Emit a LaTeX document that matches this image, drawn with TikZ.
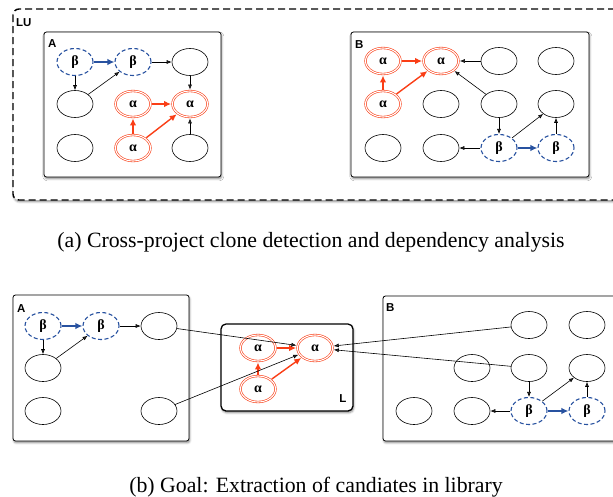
\documentclass[tikz,border=0pt]{standalone}
\usepackage{fontspec}
\setmainfont{Liberation Serif}
\setsansfont{Liberation Sans}
\usetikzlibrary{arrows.meta,shapes.geometric,shadows.blur}
\definecolor{clred}{RGB}{250,62,22}
\definecolor{clblue}{RGB}{40,82,160}
\tikzset{
  plain/.style={ellipse, draw, line width=0.6pt, minimum width=36pt, minimum height=27pt, inner sep=0pt},
  alpha/.style={plain, draw=clred, double=white, double distance=1.1pt, line width=0.6pt,
    minimum width=35pt, minimum height=26pt, outer sep=1.4pt, font=\fontsize{14}{14}\selectfont\bfseries},
  beta/.style={plain, draw=clblue, line width=1.1pt, dash pattern=on 4pt off 2.5pt,
    font=\fontsize{14}{14}\selectfont\bfseries},
  dep/.style={-{Latex[length=5pt,width=4pt]}, line width=0.6pt},
  redlink/.style={-{Latex[length=7pt,width=6.5pt]}, draw=clred, line width=1.4pt},
  bluelink/.style={-{Latex[length=7pt,width=6.5pt]}, draw=clblue, line width=1.4pt},
  panel/.style={draw, line width=0.8pt, rounded corners=2.5pt, fill=white,
    blur shadow={shadow xshift=0.8pt, shadow yshift=-1.8pt, shadow blur radius=2pt, shadow opacity=45}},
  tag/.style={font=\sffamily\bfseries\fontsize{11.5}{11.5}\selectfont, inner sep=0pt},
  caption/.style={font=\fontsize{21.8}{24}\selectfont}
}
\begin{document}
\begin{tikzpicture}[x=1pt,y=-1pt]
  \useasboundingbox (0,0) rectangle (613,496);

  % (a) cross-project
  \draw[panel, line width=1.4pt, dash pattern=on 7pt off 4pt, rounded corners=6pt] (13,9) rectangle (625,200);
  \node[tag, anchor=west] (lu) at (16,23) {LU};
  \draw[panel] (44,32) rectangle (221,177);
  \draw[panel] (351,32) rectangle (589,177);
  \node[tag, anchor=west] (tA) at (48,44) {A};
  \node[tag, anchor=west] (tB) at (355,45) {B};

  \node[beta] (tA11) at (75,62) {β};
  \node[beta] (tA12) at (133,62) {β};
  \node[plain] (tA13) at (190,62) {};
  \node[plain] (tA21) at (75,104) {};
  \node[alpha] (tA22) at (133,104) {α};
  \node[alpha] (tA23) at (190,104) {α};
  \node[plain] (tA31) at (75,148) {};
  \node[alpha] (tA32) at (133,148) {α};
  \node[plain] (tA33) at (190,148) {};

  \draw[bluelink] (tA11) -- (tA12);
  \draw[dep] (tA11) -- (tA21);
  \draw[dep] (tA21) -- (tA12);
  \draw[dep] (tA12) -- (tA13);
  \draw[dep] (tA13) -- (tA23);
  \draw[dep] (tA33) -- (tA23);
  \draw[redlink] (tA22) -- (tA23);
  \draw[redlink] (tA32) -- (tA22);
  \draw[redlink] (tA32) -- (tA23);

  \node[alpha] (tB11) at (383,61) {α};
  \node[alpha] (tB12) at (441,61) {α};
  \node[plain] (tB13) at (499,61) {};
  \node[plain] (tB14) at (556,61) {};
  \node[alpha] (tB21) at (383,104) {α};
  \node[plain] (tB22) at (441,104) {};
  \node[plain] (tB23) at (499,104) {};
  \node[plain] (tB24) at (556,104) {};
  \node[plain] (tB31) at (383,148) {};
  \node[plain] (tB32) at (441,148) {};
  \node[beta] (tB33) at (499,148) {β};
  \node[beta] (tB34) at (556,148) {β};

  \draw[redlink] (tB11) -- (tB12);
  \draw[redlink] (tB21) -- (tB11);
  \draw[redlink] (tB21) -- (tB12);
  \draw[dep] (tB13) -- (tB12);
  \draw[dep] (tB23) -- (tB12);
  \draw[dep] (tB23) -- (tB33);
  \draw[dep] (tB33) -- (tB32);
  \draw[dep] (tB33) -- (tB24);
  \draw[dep] (tB34) -- (tB24);
  \draw[bluelink] (tB33) -- (tB34);

  \node[caption] (capa) at (311,242) {(a) Cross-project clone detection and dependency analysis};

  % (b) goal
  \draw[panel] (13,295) rectangle (189,441);
  \draw[panel] (383,296) rectangle (625,441);
  \draw[panel, line width=1.3pt, rounded corners=5pt] (221,324) rectangle (353,411);
  \node[tag, anchor=west] (bA) at (17,309) {A};
  \node[tag, anchor=west] (bB) at (386,308) {B};
  \node[tag] (bL) at (343,399) {L};

  \node[beta] (bA11) at (43,326) {β};
  \node[beta] (bA12) at (101,326) {β};
  \node[plain] (bA13) at (159,326) {};
  \node[plain] (bA21) at (43,368) {};
  \node[plain] (bA31) at (43,411) {};
  \node[plain] (bA33) at (159,411) {};

  \draw[bluelink] (bA11) -- (bA12);
  \draw[dep] (bA11) -- (bA21);
  \draw[dep] (bA21) -- (bA12);
  \draw[dep] (bA12) -- (bA13);

  \node[alpha] (bL1) at (258,348) {α};
  \node[alpha] (bL2) at (315,348) {α};
  \node[alpha] (bL3) at (258,389) {α};

  \draw[redlink] (bL1) -- (bL2);
  \draw[redlink] (bL3) -- (bL1);
  \draw[redlink] (bL3) -- (bL2);

  \node[plain] (bB13) at (529,325) {};
  \node[plain] (bB14) at (587,325) {};
  \node[plain] (bB22) at (472,368) {};
  \node[plain] (bB23) at (529,368) {};
  \node[plain] (bB24) at (587,368) {};
  \node[plain] (bB31) at (414,411) {};
  \node[plain] (bB32) at (472,411) {};
  \node[beta] (bB33) at (529,411) {β};
  \node[beta] (bB34) at (587,411) {β};

  \draw[dep] (bB23) -- (bB33);
  \draw[dep] (bB33) -- (bB32);
  \draw[dep] (bB33) -- (bB24);
  \draw[dep] (bB34) -- (bB24);
  \draw[bluelink] (bB33) -- (bB34);

  % links into the library
  \draw[dep] (bA13) -- (bL2);
  \draw[dep] (bA33) -- (bL2);
  \draw[dep] (bB13) -- (bL2);
  \draw[dep] (bB23) -- (bL2);

  \node[caption] (capb) at (316,487) {(b) Goal: Extraction of candiates in library};
\end{tikzpicture}
\end{document}
